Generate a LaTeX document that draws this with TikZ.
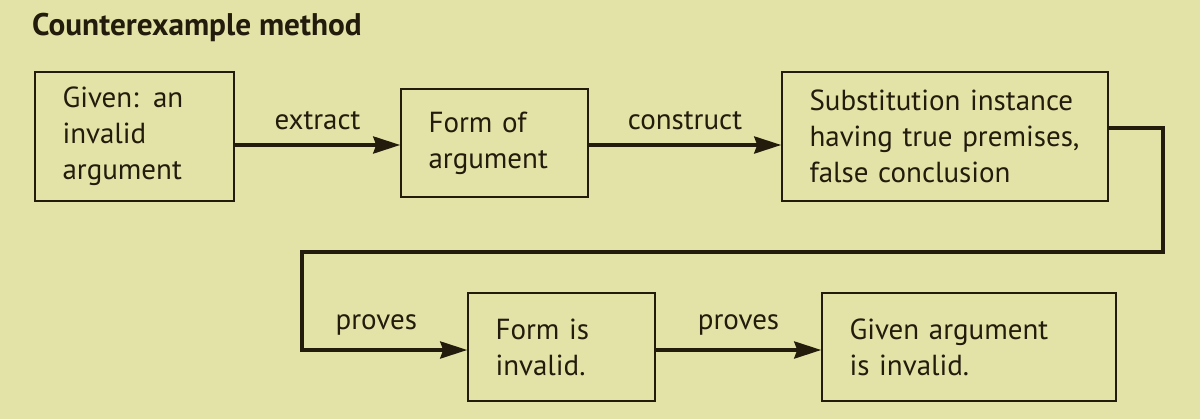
\documentclass[tikz,border=0pt]{standalone}
\usepackage{fontspec}
\setmainfont{PT Sans}
\usetikzlibrary{positioning,arrows.meta}
\definecolor{paper}{RGB}{227,227,168}
\definecolor{ink}{RGB}{35,27,12}

\begin{document}
\begin{tikzpicture}[
                x=0.02cm, y=-0.02cm,
                every node/.style={text=ink, font=\fontsize{16.5}{20.4}\selectfont},
                stepbox/.style={draw=ink, line width=0.9pt, align=left, inner xsep=0.55cm, inner ysep=0pt},
                flow/.style={-{Stealth[length=0.54cm, width=0.34cm, inset=0.06cm]}, draw=ink, line width=2.1pt},
                lbl/.style={above=4pt}
                ]
                % Background and frame
                \fill[paper] (0,0) rectangle (1200,419);
                \useasboundingbox (0,0) rectangle (1200,419);
                \node[anchor=west, font=\fontsize{17.8}{20}\selectfont\bfseries] (title) at (26,27) {Counterexample method};
                % Top row
                \node[stepbox, text width=2.88cm, minimum height=2.58cm] (given) at (134.5,136.5)
                  {Given: an\\invalid\\argument};
                \node[stepbox, text width=2.64cm, minimum height=2.16cm] (form) at (494.5,143)
                  {Form of\\argument};
                \node[stepbox, text width=5.42cm, minimum height=2.58cm] (subst) at (945,136.5)
                  {Substitution instance\\having true premises,\\false conclusion};
                % Bottom row
                \node[stepbox, text width=2.64cm, minimum height=2.16cm] (forminv) at (561.5,347)
                  {Form is\\invalid.};
                \node[stepbox, text width=4.78cm, minimum height=2.16cm] (argsinv) at (969,347)
                  {Given argument\\is invalid.};
                % Connectors
                \draw[flow] (given.east |- 0,145) -- node[lbl] {extract} (form.west |- 0,145);
                \draw[flow] (form.east |- 0,145) -- node[lbl] {construct} (subst.west |- 0,145);
                \coordinate (turn) at (302,252);
                \draw[flow] (subst.east |- 0,128) -- ++(54,0) |- (turn) -- (turn |- 0,350)
                  -- node[lbl, pos=0.45] {proves} (forminv.west |- 0,350);
                \draw[flow] (forminv.east |- 0,350) -- node[lbl] {proves} (argsinv.west |- 0,350);
              \end{tikzpicture}
\end{document}
